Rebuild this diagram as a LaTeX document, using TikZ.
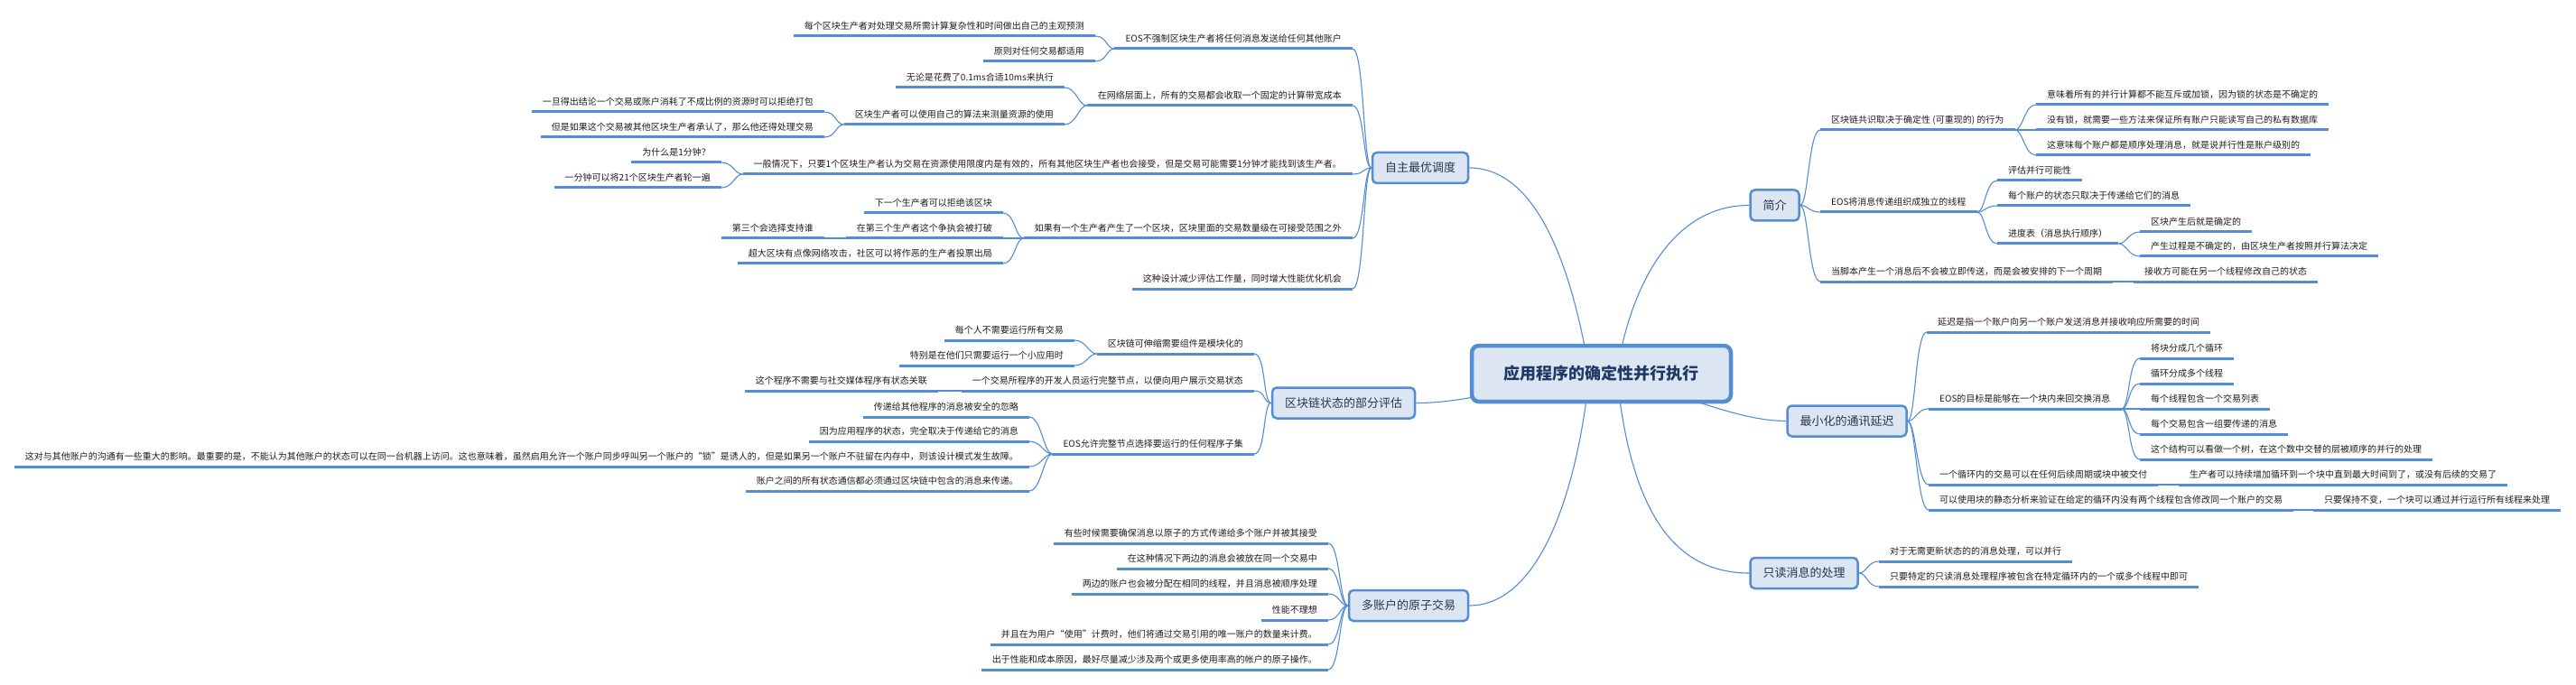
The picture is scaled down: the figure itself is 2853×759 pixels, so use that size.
\documentclass[tikz,border=0pt]{standalone}
\usepackage{fontspec}
\newfontfamily\cjk{Noto Sans CJK SC}
\definecolor{lineblue}{RGB}{84,141,212}
\definecolor{boxfill}{RGB}{220,230,242}
\definecolor{ltext}{RGB}{40,55,80}
\definecolor{rtext}{RGB}{31,56,100}
\definecolor{leaftext}{RGB}{30,30,30}
\pgfdeclarelayer{bg}
\pgfsetlayers{bg,main}
\tikzset{
  uline/.style={draw=lineblue, line width=3pt},
  conn/.style={draw=lineblue, line width=1.1pt},
  leaf/.style={font=\cjk\fontsize{10}{12}\selectfont, text=leaftext, inner xsep=12pt, inner ysep=6pt,
    text height=8.8pt, text depth=1.2pt,
    append after command={(\tikzlastnode.south west) edge[uline] (\tikzlastnode.south east)}},
  leafL/.style={leaf, anchor=south east},
  leafR/.style={leaf, anchor=south west},
  topic/.style={draw=lineblue, line width=2.5pt, fill=boxfill, rounded corners=5pt,
    font=\cjk\fontsize{13}{15}\selectfont, text=ltext, inner xsep=14pt, inner ysep=0pt,
    minimum height=34pt, text height=11.4pt, text depth=1.6pt},
  rootbox/.style={draw=lineblue, line width=4.5pt, fill=boxfill, rounded corners=8pt,
    font=\cjk\bfseries\fontsize{18}{20}\selectfont, text=rtext, minimum width=287pt,
    minimum height=62pt, text height=15.8pt, text depth=2.2pt}
}
\newcommand\lconn[2]{\draw[conn] (#1) .. controls +(-9,0) and +(13,0) .. (#2);}
\newcommand\rconn[2]{\draw[conn] (#1) .. controls +(9,0) and +(-13,0) .. (#2);}
\begin{document}
\begin{tikzpicture}[x=1pt, y=-1pt]
\useasboundingbox (0,0) rectangle (2853,759);
\begin{pgfonlayer}{bg}
\fill[white] (0,0) rectangle (2853,759);
\end{pgfonlayer}

% root and main topics
\node[rootbox] (root) at (1773.5,414) {应用程序的确定性并行执行};
\node[topic] (A1) at (1573,186) {自主最优调度};
\node[topic] (A2) at (1965.5,227.5) {简介};
\node[topic] (A3) at (1488,446.5) {区块链状态的部分评估};
\node[topic] (A4) at (1560,671) {多账户的原子交易};
\node[topic] (A5) at (2045.5,466.5) {最小化的通讯延迟};
\node[topic] (A6) at (1998,635) {只读消息的处理};

% 自主最优调度
\node[leafL] (a1) at (1498,54) {EOS不强制区块生产者将任何消息发送给任何其他账户};
\node[leafL] (a11) at (1213,40) {每个区块生产者对处理交易所需计算复杂性和时间做出自己的主观预测};
\node[leafL] (a12) at (1213,68) {原则对任何交易都适用};
\node[leafL] (a2) at (1498,117) {在网络层面上，所有的交易都会收取一个固定的计算带宽成本};
\node[leafL] (a21) at (1179,97) {无论是花费了0.1ms合适10ms来执行};
\node[leafL] (a22) at (1179,138) {区块生产者可以使用自己的算法来测量资源的使用};
\node[leafL] (a221) at (913,124) {一旦得出结论一个交易或账户消耗了不成比例的资源时可以拒绝打包};
\node[leafL] (a222) at (913,152) {但是如果这个交易被其他区块生产者承认了，那么他还得处理交易};
\node[leafL] (a3) at (1498,193) {一般情况下，只要1个区块生产者认为交易在资源使用限度内是有效的，所有其他区块生产者也会接受，但是交易可能需要1分钟才能找到该生产者。};
\node[leafL] (a31) at (799,180) {为什么是1分钟？};
\node[leafL] (a32) at (799,208) {一分钟可以将21个区块生产者轮一遍};
\node[leafL] (a4) at (1498,264) {如果有一个生产者产生了一个区块，区块里面的交易数量级在可接受范围之外};
\node[leafL] (a41) at (1111,236) {下一个生产者可以拒绝该区块};
\node[leafL] (a42) at (1111,264) {在第三个生产者这个争执会被打破};
\node[leafL] (a421) at (913,264) {第三个会选择支持谁};
\node[leafL] (a43) at (1111,292) {超大区块有点像网络攻击，社区可以将作恶的生产者投票出局};
\node[leafL] (a5) at (1498,320) {这种设计减少评估工作量，同时增大性能优化机会};

% 区块链状态的部分评估
\node[leafL] (b1) at (1389,392) {区块链可伸缩需要组件是模块化的};
\node[leafL] (b11) at (1190,377) {每个人不需要运行所有交易};
\node[leafL] (b12) at (1190,405) {特别是在他们只需要运行一个小应用时};
\node[leafL] (b2) at (1389,433) {一个交易所程序的开发人员运行完整节点，以便向用户展示交易状态};
\node[leafL] (b21) at (1039,433) {这个程序不需要与社交媒体程序有状态关联};
\node[leafL] (b3) at (1389,503) {EOS允许完整节点选择要运行的任何程序子集};
\node[leafL] (b31) at (1140,462) {传递给其他程序的消息被安全的忽略};
\node[leafL] (b32) at (1140,489) {因为应用程序的状态，完全取决于传递给它的消息};
\node[leafL] (b33) at (1140,517) {这对与其他账户的沟通有一些重大的影响。最重要的是，不能认为其他账户的状态可以在同一台机器上访问。这也意味着，虽然启用允许一个账户同步呼叫另一个账户的“锁”是诱人的，但是如果另一个账户不驻留在内存中，则该设计模式发生故障。};
\node[leafL] (b34) at (1140,544) {账户之间的所有状态通信都必须通过区块链中包含的消息来传递。};

% 多账户的原子交易
\node[leafL] (c1) at (1471,602) {有些时候需要确保消息以原子的方式传递给多个账户并被其接受};
\node[leafL] (c2) at (1471,630) {在这种情况下两边的消息会被放在同一个交易中};
\node[leafL] (c3) at (1471,658) {两边的账户也会被分配在相同的线程，并且消息被顺序处理};
\node[leafL] (c4) at (1471,687) {性能不理想};
\node[leafL] (c5) at (1471,714) {并且在为用户“使用”计费时，他们将通过交易引用的唯一账户的数量来计费。};
\node[leafL] (c6) at (1471,742) {出于性能和成本原因，最好尽量减少涉及两个或更多使用率高的帐户的原子操作。};

% 简介
\node[leafR] (d1) at (2016,144) {区块链共识取决于确定性 (可重现的) 的行为};
\node[leafR] (d11) at (2255,116) {意味着所有的并行计算都不能互斥或加锁，因为锁的状态是不确定的};
\node[leafR] (d12) at (2255,144) {没有锁，就需要一些方法来保证所有账户只能读写自己的私有数据库};
\node[leafR] (d13) at (2255,172) {这意味每个账户都是顺序处理消息，就是说并行性是账户级别的};
\node[leafR] (d2) at (2016,235) {EOS将消息传递组织成独立的线程};
\node[leafR] (d21) at (2212,200) {评估并行可能性};
\node[leafR] (d22) at (2212,228) {每个账户的状态只取决于传递给它们的消息};
\node[leafR] (d23) at (2212,270) {进度表（消息执行顺序）};
\node[leafR] (d231) at (2370,257) {区块产生后就是确定的};
\node[leafR] (d232) at (2370,284) {产生过程是不确定的，由区块生产者按照并行算法决定};
\node[leafR] (d3) at (2016,312) {当脚本产生一个消息后不会被立即传送，而是会被安排的下一个周期};
\node[leafR] (d31) at (2363,312) {接收方可能在另一个线程修改自己的状态};

% 最小化的通讯延迟
\node[leafR] (e1) at (2134,368) {延迟是指一个账户向另一个账户发送消息并接收响应所需要的时间};
\node[leafR] (e2) at (2136,453) {EOS的目标是能够在一个块内来回交换消息};
\node[leafR] (e21) at (2370,397) {将块分成几个循环};
\node[leafR] (e22) at (2370,425) {循环分成多个线程};
\node[leafR] (e23) at (2370,453) {每个线程包含一个交易列表};
\node[leafR] (e24) at (2370,481) {每个交易包含一组要传递的消息};
\node[leafR] (e25) at (2370,509) {这个结构可以看做一个树，在这个数中交替的层被顺序的并行的处理};
\node[leafR] (e3) at (2136,537) {一个循环内的交易可以在任何后续周期或块中被交付};
\node[leafR] (e31) at (2413,537) {生产者可以持续增加循环到一个块中直到最大时间到了，或没有后续的交易了};
\node[leafR] (e4) at (2136,565) {可以使用块的静态分析来验证在给定的循环内没有两个线程包含修改同一个账户的交易};
\node[leafR] (e41) at (2562,565) {只要保持不变，一个块可以通过并行运行所有线程来处理};

% 只读消息的处理
\node[leafR] (f1) at (2081,622) {对于无需更新状态的的消息处理，可以并行};
\node[leafR] (f2) at (2081,650) {只要特定的只读消息处理程序被包含在特定循环内的一个或多个线程中即可};

\begin{pgfonlayer}{bg}
% root connectors
\draw[conn] ([xshift=-13pt]root.center) .. controls (1740,290) and (1700,186) .. (A1.east);
\draw[conn] ([xshift=17pt]root.center) .. controls (1805,320) and (1850,227.5) .. (A2.west);
\draw[conn] (root.center) .. controls (1690,420) and (1640,446.5) .. (A3.east);
\draw[conn] ([xshift=-13pt]root.center) .. controls (1745,560) and (1700,671) .. (A4.east);
\draw[conn] (root.center) .. controls (1850,430) and (1920,466.5) .. (A5.west);
\draw[conn] ([xshift=17pt]root.center) .. controls (1805,560) and (1850,635) .. (A6.west);
% left side
\foreach \c in {a1,a2,a3,a4,a5} {\lconn{A1.west}{\c.south east}}
\lconn{a1.south west}{a11.south east}
\lconn{a1.south west}{a12.south east}
\lconn{a2.south west}{a21.south east}
\lconn{a2.south west}{a22.south east}
\lconn{a22.south west}{a221.south east}
\lconn{a22.south west}{a222.south east}
\lconn{a3.south west}{a31.south east}
\lconn{a3.south west}{a32.south east}
\foreach \c in {a41,a42,a43} {\lconn{a4.south west}{\c.south east}}
\draw[conn] (a42.south west) -- (a421.south east);
\foreach \c in {b1,b2,b3} {\lconn{A3.west}{\c.south east}}
\lconn{b1.south west}{b11.south east}
\lconn{b1.south west}{b12.south east}
\draw[conn] (b2.south west) -- (b21.south east);
\foreach \c in {b31,b32,b33,b34} {\lconn{b3.south west}{\c.south east}}
\foreach \c in {c1,c2,c3,c4,c5,c6} {\lconn{A4.west}{\c.south east}}
% right side
\foreach \c in {d1,d2,d3} {\rconn{A2.east}{\c.south west}}
\foreach \c in {d11,d12,d13} {\rconn{d1.south east}{\c.south west}}
\foreach \c in {d21,d22,d23} {\rconn{d2.south east}{\c.south west}}
\foreach \c in {d231,d232} {\rconn{d23.south east}{\c.south west}}
\draw[conn] (d3.south east) -- (d31.south west);
\foreach \c in {e1,e2,e3,e4} {\rconn{A5.east}{\c.south west}}
\foreach \c in {e21,e22,e23,e24,e25} {\rconn{e2.south east}{\c.south west}}
\draw[conn] (e3.south east) -- (e31.south west);
\draw[conn] (e4.south east) -- (e41.south west);
\foreach \c in {f1,f2} {\rconn{A6.east}{\c.south west}}
\end{pgfonlayer}
\end{tikzpicture}
\end{document}
